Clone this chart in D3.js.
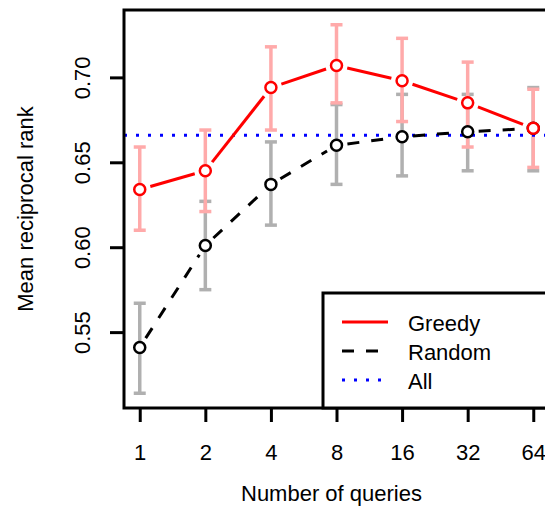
<!DOCTYPE html>
<html>
<head>
<meta charset="utf-8">
<script src="https://cdn.jsdelivr.net/npm/d3@7"></script>
<style>
  body { margin: 0; background: #fff; }
  text { font-family: "Liberation Sans", Arial, sans-serif; fill: #000; }
</style>
</head>
<body>
<svg id="chart" width="545" height="507"></svg>
<script>
// values
var queries    = [1, 2, 4, 8, 16, 32, 64];
var greedyMean = [0.634, 0.645, 0.694, 0.707, 0.698, 0.685, 0.670];
var greedyLo   = [0.610, 0.621, 0.669, 0.685, 0.674, 0.659, 0.647];
var greedyHi   = [0.659, 0.669, 0.718, 0.731, 0.723, 0.709, 0.693];
var randomMean = [0.541, 0.601, 0.637, 0.660, 0.665, 0.668, 0.670];
var randomLo   = [0.514, 0.575, 0.613, 0.637, 0.642, 0.645, 0.645];
var randomHi   = [0.567, 0.627, 0.662, 0.684, 0.690, 0.690, 0.694];
var allValue   = 0.666;
var yTicks     = [0.55, 0.60, 0.65, 0.70];
var legendNames = ["Greedy", "Random", "All"];

var svg = d3.select("#chart");

// plot region (R style, right edge falls just outside the window)
var plotLeft = 124, plotRight = 549, plotTop = 10, plotBottom = 408;

// R pads the range by 4% on each side
var lx = [0, Math.log2(queries[queries.length - 1])];
var padX = (lx[1] - lx[0]) * 0.04;
var x = d3.scaleLog().base(2)
    .domain([Math.pow(2, lx[0] - padX), Math.pow(2, lx[1] + padX)])
    .range([plotLeft, plotRight]);

var yMin = d3.min(randomLo.concat(greedyLo)), yMax = d3.max(randomHi.concat(greedyHi));
var padY = (yMax - yMin) * 0.04;
var y = d3.scaleLinear().domain([yMin - padY, yMax + padY]).range([plotBottom, plotTop]);

var greedy = queries.map(function (q, i) { return {q: q, m: greedyMean[i], lo: greedyLo[i], hi: greedyHi[i]}; });
var random = queries.map(function (q, i) { return {q: q, m: randomMean[i], lo: randomLo[i], hi: randomHi[i]}; });

// error bars
var errorBars = function (data, color) {
    var g = svg.append("g")
        .attr("stroke", color)
        .attr("stroke-width", 3.5);
    g.selectAll("line.v").data(data).enter().append("line")
        .attr("x1", function (d) { return x(d.q); })
        .attr("x2", function (d) { return x(d.q); })
        .attr("y1", function (d) { return y(d.lo); })
        .attr("y2", function (d) { return y(d.hi); });
    ["lo", "hi"].forEach(function (k) {
        g.selectAll("line." + k).data(data).enter().append("line")
            .attr("x1", function (d) { return x(d.q) - 6; })
            .attr("x2", function (d) { return x(d.q) + 6; })
            .attr("y1", function (d) { return y(d[k]); })
            .attr("y2", function (d) { return y(d[k]); });
    });
};
errorBars(random, "#b0b0b0");
errorBars(greedy, "#ffaaaa");

// horizontal "All" line
svg.append("line")
    .attr("x1", plotLeft).attr("x2", plotRight)
    .attr("y1", y(allValue)).attr("y2", y(allValue))
    .attr("stroke", "#0000ff")
    .attr("stroke-width", 3)
    .attr("stroke-dasharray", "3,9");

// type = "b": segments with gaps round the points
var gap = 11;
var pointLines = function (data, color, dash) {
    var segs = d3.pairs(data).map(function (p) {
        var x1 = x(p[0].q), y1 = y(p[0].m), x2 = x(p[1].q), y2 = y(p[1].m);
        var len = Math.sqrt((x2 - x1) * (x2 - x1) + (y2 - y1) * (y2 - y1));
        var ux = (x2 - x1) / len, uy = (y2 - y1) / len;
        return [x1 + ux * gap, y1 + uy * gap, x2 - ux * gap, y2 - uy * gap];
    });
    svg.append("g").selectAll("line").data(segs).enter().append("line")
        .attr("x1", function (s) { return s[0]; })
        .attr("y1", function (s) { return s[1]; })
        .attr("x2", function (s) { return s[2]; })
        .attr("y2", function (s) { return s[3]; })
        .attr("stroke", color)
        .attr("stroke-width", 3)
        .attr("stroke-dasharray", dash);
    svg.append("g").selectAll("circle").data(data).enter().append("circle")
        .attr("cx", function (d) { return x(d.q); })
        .attr("cy", function (d) { return y(d.m); })
        .attr("r", 5.5)
        .attr("fill", "#fff")
        .attr("stroke", color)
        .attr("stroke-width", 2.5);
};
pointLines(random, "#000", "12,12");
pointLines(greedy, "#ff0000", null);

// axes
var xAxis = svg.append("g")
    .attr("transform", "translate(0," + plotBottom + ")")
    .call(d3.axisBottom(x).tickValues(queries).tickFormat(d3.format("d")).tickSize(14));
xAxis.select(".domain").remove();
xAxis.selectAll(".tick line").attr("stroke", "#000").attr("stroke-width", 3);
xAxis.selectAll(".tick text")
    .attr("y", 52).attr("dy", null)
    .style("font-size", "22px")
    .style("font-family", "'Liberation Sans', Arial, sans-serif");

var yAxis = svg.append("g")
    .attr("transform", "translate(" + plotLeft + ",0)")
    .call(d3.axisLeft(y).tickValues(yTicks).tickFormat(d3.format(".2f")).tickSize(14));
yAxis.select(".domain").remove();
yAxis.selectAll(".tick line").attr("stroke", "#000").attr("stroke-width", 3);
yAxis.selectAll(".tick text")
    .attr("x", null).attr("dy", null)
    .attr("transform", "translate(-34,0) rotate(-90)")
    .attr("text-anchor", "middle")
    .style("font-size", "22px")
    .style("font-family", "'Liberation Sans', Arial, sans-serif");

// box
svg.append("rect")
    .attr("x", plotLeft).attr("y", plotTop)
    .attr("width", plotRight - plotLeft).attr("height", plotBottom - plotTop)
    .attr("fill", "none")
    .attr("stroke", "#000")
    .attr("stroke-width", 3);

// titles
svg.append("text")
    .attr("x", (plotLeft + plotRight) / 2 - 5).attr("y", 501)
    .attr("text-anchor", "middle")
    .style("font-size", "22px")
    .text("Number of queries");

svg.append("text")
    .attr("transform", "translate(33," + (plotTop + plotBottom) / 2 + ") rotate(-90)")
    .attr("text-anchor", "middle")
    .style("font-size", "22px")
    .text("Mean reciprocal rank");

// legend (bottom right)
var lg = svg.append("g").attr("transform", "translate(" + (plotRight - 226) + "," + (plotBottom - 115) + ")");
lg.append("rect")
    .attr("x", 0).attr("y", 0)
    .attr("width", 226).attr("height", 115)
    .attr("fill", "#fff")
    .attr("stroke", "#000")
    .attr("stroke-width", 3);
var legendStyle = [
    {color: "#ff0000", dash: null},
    {color: "#000", dash: "12,12"},
    {color: "#0000ff", dash: "3,9"}
];
legendNames.forEach(function (name, i) {
    var cy = 29 + i * 29;
    lg.append("line")
        .attr("x1", 19).attr("x2", 65)
        .attr("y1", cy).attr("y2", cy)
        .attr("stroke", legendStyle[i].color)
        .attr("stroke-width", 3)
        .attr("stroke-dasharray", legendStyle[i].dash);
    lg.append("text")
        .attr("x", 85).attr("y", cy + 9)
        .style("font-size", "22px")
        .text(name);
});
</script>
</body>
</html>
